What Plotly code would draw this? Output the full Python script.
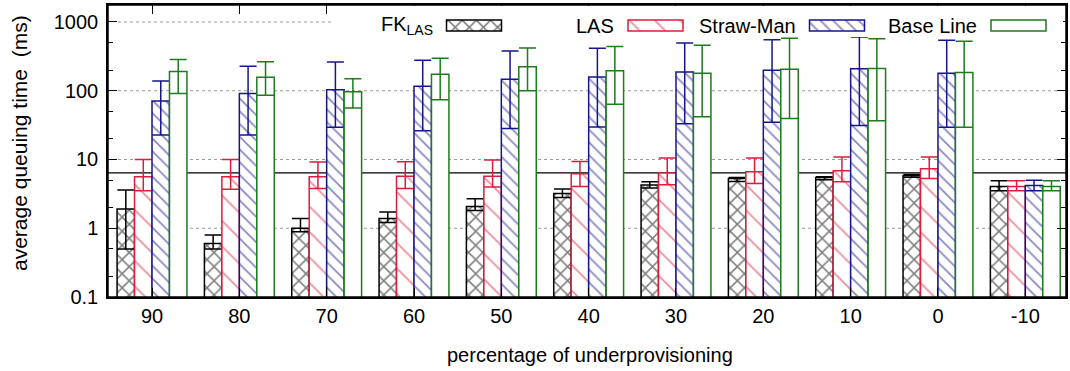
import math
import plotly.graph_objects as go

# ---------------------------------------------------------------- data
categories = ["90", "80", "70", "60", "50", "40", "30", "20", "10", "0", "-10"]

fk_las = [1.90, 0.60, 1.00, 1.39, 2.07, 3.20, 4.24, 5.29, 5.47, 5.79, 4.05]
fk_las_hi = [3.59, 0.80, 1.39, 1.72, 2.68, 3.71, 4.74, 5.47, 5.60, 6.05, 4.90]
fk_las_lo = [0.50, 0.50, 0.89, 1.21, 1.81, 2.80, 3.84, 4.79, 5.07, 5.50, 3.50]

las = [5.6, 5.6, 5.6, 5.7, 5.7, 6.2, 6.34, 6.62, 6.85, 7.32, 4.05]
las_hi = [10.0, 10.0, 9.2, 9.25, 9.8, 9.35, 10.5, 10.5, 10.9, 10.9, 4.9]
las_lo = [3.5, 3.7, 3.8, 3.8, 3.97, 4.05, 4.29, 4.48, 4.74, 5.29, 3.5]

straw_man = [71, 91, 103, 116, 147, 159, 188, 199, 208, 180, 4.19]
straw_man_hi = [139, 227, 262, 277, 379, 415, 495, 553, 606, 542, 5.0]
straw_man_lo = [22.8, 22.8, 29.5, 26.1, 28.2, 29.8, 33.0, 34.9, 31.2, 29.5, 3.5]

base_line = [190, 157, 97, 173, 224, 196, 180, 206, 210, 184, 4.05]
base_line_hi = [284, 265, 149, 297, 419, 439, 459, 580, 569, 524, 4.9]
base_line_lo = [91, 86, 56, 74, 99.6, 63.7, 41.7, 39.4, 36.5, 29.5, 3.5]

reference_level = 6.4

y_tick_vals = [0.1, 1, 10, 100, 1000]
y_tick_text = ["0.1", "1", "10", "100", "1000"]
y_minor_vals = [0.2, 0.5, 2, 5, 20, 50, 200, 500]

series_names = ["FK<sub>LAS</sub>", "LAS", "Straw-Man", "Base Line"]

# ---------------------------------------------------------------- styles
FONT = "Liberation Sans, Arial, sans-serif"
colors = ["#000000", "#dc1e3c", "#16168c", "#1e7b1e"]
patterns = [
    dict(shape="x", size=10, solidity=0.28),
    dict(shape="\\", size=18, solidity=0.1),
    dict(shape="\\", size=9, solidity=0.2),
    dict(shape="", size=8, solidity=0.1),
]

W, H = 1070, 371
L, R, T, B = 108, 4, 5, 74          # plot area 108..1066 x 5..297
PW, PH = W - L - R, H - T - B
Y_RANGE = [-1, 3.247]


def px_x(px):
    """page pixel x -> paper fraction"""
    return (px - L) / PW


def px_y(py):
    """page pixel y -> paper fraction"""
    return (H - B - py) / PH


def y_frac(v):
    """data value on the log axis -> fraction of the plot height"""
    return (math.log10(v) - Y_RANGE[0]) / (Y_RANGE[1] - Y_RANGE[0])


series = [
    (fk_las, fk_las_hi, fk_las_lo),
    (las, las_hi, las_lo),
    (straw_man, straw_man_hi, straw_man_lo),
    (base_line, base_line_hi, base_line_lo),
]

fig = go.Figure()

for name, (vals, hi, lo), col, pat in zip(series_names, series, colors, patterns):
    fig.add_trace(go.Bar(
        x=categories,
        y=vals,
        name=name,
        marker=dict(
            color="white",
            line=dict(color=col, width=1.5),
            pattern=dict(shape=pat["shape"], size=pat["size"],
                         solidity=pat["solidity"], fgcolor=col,
                         bgcolor="white", fillmode="overlay"),
        ),
        error_y=dict(
            type="data", symmetric=False,
            array=[h - v for h, v in zip(hi, vals)],
            arrayminus=[v - l for v, l in zip(vals, lo)],
            color=col, thickness=1.5, width=8.5,
        ),
        showlegend=False,
    ))

# legend keys: text on the left, patterned sample box on the right,
# drawn in a small hidden subplot (pixel-scaled) that holds the key strip
KEY_X0, KEY_X1, KEY_Y0, KEY_Y1 = 335, 1063, 6, 37
key_first_center = 474
key_step = 181.5
key_w, key_top, key_bot = 55, 20, 31
key_centers = [key_first_center + i * key_step for i in range(len(series_names))]

fig.add_trace(go.Bar(
    x=key_centers,
    y=[key_top - key_bot] * len(key_centers),
    base=[key_bot] * len(key_centers),
    width=[key_w] * len(key_centers),
    xaxis="x2", yaxis="y2",
    marker=dict(
        color="white",
        line=dict(color=colors, width=1.5),
        pattern=dict(shape=[p["shape"] for p in patterns],
                     size=[p["size"] for p in patterns],
                     solidity=[p["solidity"] for p in patterns],
                     fgcolor=colors, bgcolor="white", fillmode="overlay"),
    ),
    showlegend=False, hoverinfo="skip",
))

annotations = []
for name, cx in zip(series_names, key_centers):
    annotations.append(dict(
        x=px_x(cx - key_w / 2 - 12), y=px_y((key_top + key_bot) / 2),
        xref="paper", yref="paper", text=name, showarrow=False,
        xanchor="right", yanchor="middle",
        font=dict(family=FONT, size=20, color="#000000"),
    ))

# axis titles
annotations.append(dict(
    x=px_x(19), y=px_y(143), xref="paper", yref="paper",
    text="average queuing time\u00a0 (ms)",
    textangle=-90, showarrow=False, xanchor="center", yanchor="middle",
    font=dict(family=FONT, size=21, color="#000000"),
))
annotations.append(dict(
    x=px_x(590), y=px_y(355), xref="paper", yref="paper",
    text="percentage of underprovisioning",
    showarrow=False, xanchor="center", yanchor="middle",
    font=dict(family=FONT, size=20, color="#000000"),
))

# dotted grid at the labelled decades (stopping short of the key),
# and the reference level; all behind the bars
shapes = []
grid_start, grid_end, key_left = px_x(118), px_x(1057), px_x(331)
for v in y_tick_vals[1:]:
    shapes.append(dict(
        type="line", xref="paper", yref="paper",
        x0=grid_start, x1=key_left if v == y_tick_vals[-1] else grid_end,
        y0=y_frac(v), y1=y_frac(v),
        line=dict(color="#9a9a9a", width=1, dash="dot"), layer="below",
    ))
shapes.append(dict(
    type="line", xref="paper", yref="paper", x0=0, x1=1,
    y0=y_frac(reference_level), y1=y_frac(reference_level),
    line=dict(color="#000000", width=1.2), layer="below",
))
# plot frame
shapes.append(dict(
    type="rect", xref="paper", yref="paper", x0=0, x1=1, y0=0, y1=1,
    line=dict(color="#000000", width=1.5), fillcolor="rgba(0,0,0,0)",
    layer="above",
))

fig.update_layout(
    width=W, height=H,
    margin=dict(l=L, r=R, t=T, b=B, pad=0, autoexpand=False),
    paper_bgcolor="white", plot_bgcolor="white",
    barmode="group", bargap=0.2, bargroupgap=0,
    font=dict(family=FONT, size=20, color="#000000"),
    annotations=annotations,
    shapes=shapes,
    xaxis=dict(
        type="category", range=[-0.504, 10.466], domain=[0, 1], anchor="y",
        showline=True, linecolor="#000000", linewidth=1.5, mirror="ticks",
        ticks="inside", ticklen=9, tickwidth=1.2, tickcolor="#000000",
        showgrid=False, zeroline=False, automargin=False,
        tickfont=dict(family=FONT, size=20, color="#000000"),
        ticklabelstandoff=0,
    ),
    yaxis=dict(
        type="log", range=Y_RANGE, domain=[0, 1], anchor="x",
        tickvals=y_tick_vals, ticktext=y_tick_text,
        showline=True, linecolor="#000000", linewidth=1.5, mirror="ticks",
        ticks="inside", ticklen=9, tickwidth=1.2, tickcolor="#000000",
        minor=dict(tickmode="array", tickvals=y_minor_vals,
                   ticks="inside", ticklen=5, tickwidth=1.2,
                   tickcolor="#000000", showgrid=False),
        showgrid=False, zeroline=False, automargin=False,
        tickfont=dict(family=FONT, size=20, color="#000000"),
        ticklabelstandoff=4,
    ),
    xaxis2=dict(domain=[px_x(KEY_X0), px_x(KEY_X1)], anchor="y2",
                range=[KEY_X0, KEY_X1], visible=False, fixedrange=True),
    yaxis2=dict(domain=[px_y(KEY_Y1), px_y(KEY_Y0)], anchor="x2",
                range=[KEY_Y1, KEY_Y0], visible=False, fixedrange=True),
    showlegend=False,
)

# keep the page free of margins and scrollbars
page_css = (
    "document.documentElement.style.overflow='hidden';"
    "document.body.style.margin='0';"
    "document.body.style.overflow='hidden';"
)
fig.write_html("out.html", post_script=page_css,
               config={"displayModeBar": False})
